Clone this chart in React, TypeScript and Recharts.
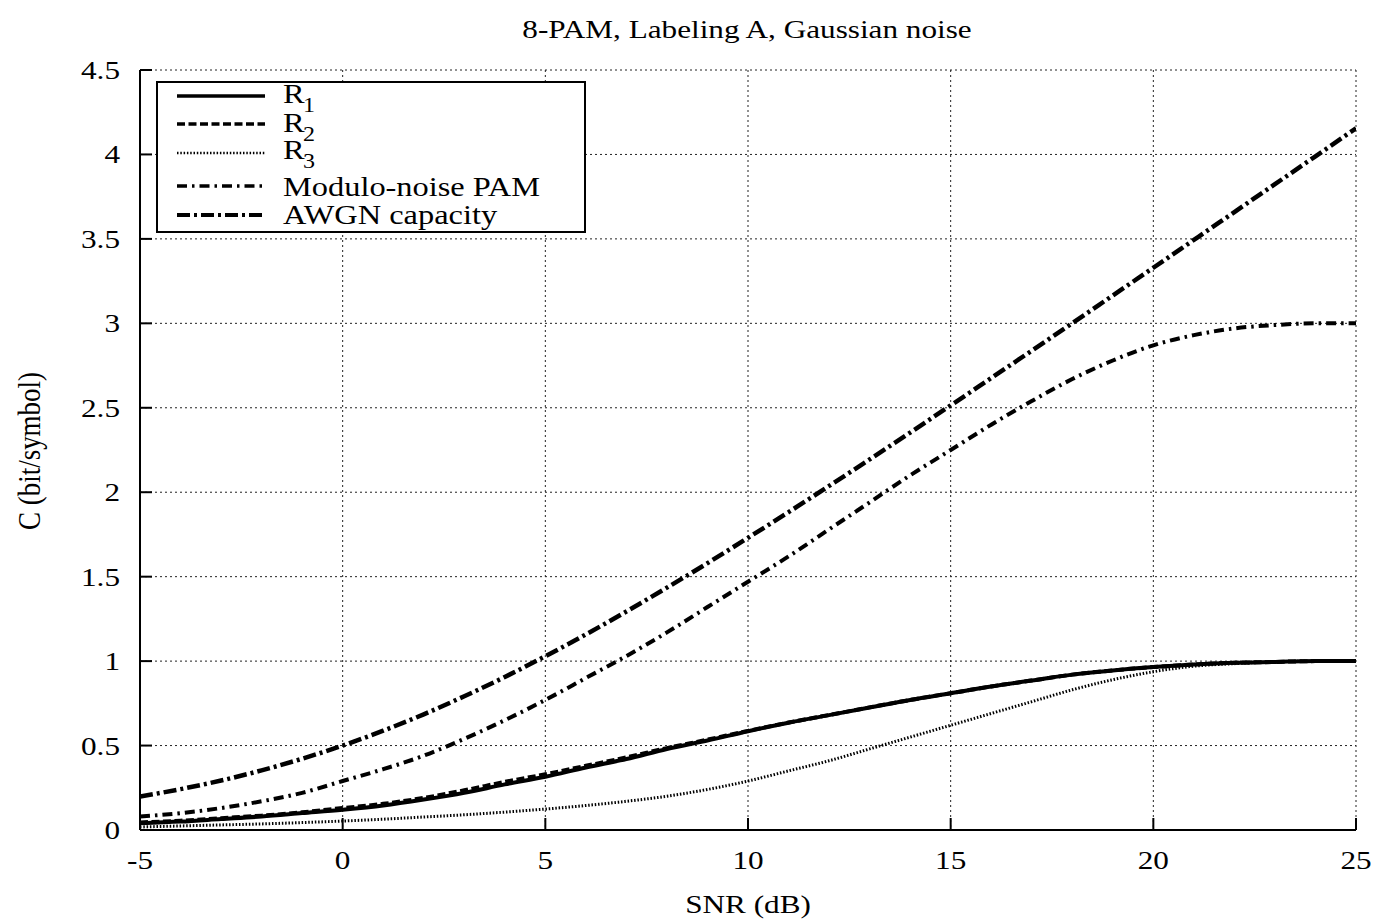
import { CartesianGrid, Line, LineChart, XAxis, YAxis } from "recharts";

// SNR in dB
const snr = [-5, -4, -3, -2, -1, 0, 1, 2, 3, 4, 5, 6, 7, 8, 9, 10, 11, 12, 13, 14, 15, 16, 17, 18, 19, 20, 21, 22, 23, 24, 25];

const r1 = [0.04, 0.05, 0.065, 0.08, 0.1, 0.12, 0.145, 0.18, 0.22, 0.27, 0.315, 0.37, 0.42, 0.48, 0.53, 0.585, 0.635, 0.68, 0.725, 0.77, 0.81, 0.85, 0.885, 0.92, 0.945, 0.965, 0.98, 0.99, 0.995, 1.0, 1.0];
const r2 = [0.045, 0.055, 0.07, 0.085, 0.105, 0.13, 0.155, 0.19, 0.235, 0.285, 0.33, 0.38, 0.43, 0.485, 0.535, 0.587, 0.636, 0.681, 0.726, 0.77, 0.81, 0.85, 0.885, 0.92, 0.945, 0.965, 0.98, 0.99, 0.995, 1.0, 1.0];
const r3 = [0.018, 0.024, 0.03, 0.036, 0.044, 0.053, 0.064, 0.077, 0.09, 0.106, 0.124, 0.145, 0.17, 0.2, 0.24, 0.29, 0.35, 0.41, 0.48, 0.55, 0.62, 0.69, 0.76, 0.83, 0.89, 0.937, 0.97, 0.985, 0.995, 1.0, 1.0];
const moduloPam = [0.08, 0.1, 0.13, 0.17, 0.22, 0.29, 0.36, 0.44, 0.54, 0.65, 0.77, 0.9, 1.03, 1.17, 1.32, 1.47, 1.62, 1.78, 1.94, 2.1, 2.25, 2.4, 2.54, 2.67, 2.78, 2.87, 2.93, 2.97, 2.99, 3.0, 3.0];
const awgn = [0.198, 0.242, 0.293, 0.353, 0.422, 0.5, 0.588, 0.685, 0.792, 0.906, 1.029, 1.158, 1.294, 1.435, 1.58, 1.73, 1.882, 2.037, 2.194, 2.353, 2.514, 2.676, 2.838, 3.001, 3.165, 3.329, 3.494, 3.659, 3.824, 3.989, 4.155];

const xTicks = [-5, 0, 5, 10, 15, 20, 25];
const yTicks = [0, 0.5, 1, 1.5, 2, 2.5, 3, 3.5, 4, 4.5];

const data = snr.map((s, i) => ({
  snr: s,
  r1: r1[i],
  r2: r2[i],
  r3: r3[i],
  mod: moduloPam[i],
  awgn: awgn[i],
}));

const FONT = "'Liberation Serif', 'DejaVu Serif', serif";
const TICK = 12;
const SX = 1.2; // the original text is stretched sideways

const series = [
  { key: "r1", label: "R", sub: "1", dash: undefined, width: 4, rowY: 96, baseY: 103 },
  { key: "r2", label: "R", sub: "2", dash: "8 3.5", width: 4, rowY: 124, baseY: 132 },
  { key: "r3", label: "R", sub: "3", dash: "1.5 1.8", width: 3, rowY: 153, baseY: 159 },
  { key: "mod", label: "Modulo-noise PAM", sub: "", dash: "10 5 2.5 5", width: 4, rowY: 186, baseY: 196 },
  { key: "awgn", label: "AWGN capacity", sub: "", dash: "13 4 3 4", width: 4.5, rowY: 215, baseY: 224 },
];

function SText({ x, y, size, anchor = "start", children }: any) {
  return (
    <text
      transform={`translate(${x} ${y}) scale(${SX} 1)`}
      textAnchor={anchor}
      fontFamily={FONT}
      fontSize={size}
      fill="#000"
    >
      {children}
    </text>
  );
}

function BottomTick({ x, y, payload }: any) {
  return (
    <g>
      <line x1={x} y1={y} x2={x} y2={y - TICK} stroke="#000" strokeWidth={2} />
      <SText x={x} y={y + 39} size={26} anchor="middle">
        {payload.value}
      </SText>
    </g>
  );
}

function TopTick({ x, y }: any) {
  return <line x1={x} y1={y} x2={x} y2={y + TICK} stroke="#000" strokeWidth={2} />;
}

function LeftTick({ x, y, payload }: any) {
  return (
    <g>
      <line x1={x} y1={y} x2={x + TICK} y2={y} stroke="#000" strokeWidth={2} />
      <SText x={x - 20} y={y + 9} size={26} anchor="end">
        {payload.value}
      </SText>
    </g>
  );
}

function RightTick({ x, y }: any) {
  return <line x1={x} y1={y} x2={x - TICK} y2={y} stroke="#000" strokeWidth={2} />;
}

function Overlay() {
  return (
    <svg width={1375} height={923} style={{ position: "absolute", left: 0, top: 0, pointerEvents: "none" }}>
      <SText x={747} y={38} size={26} anchor="middle">
        8-PAM, Labeling A, Gaussian noise
      </SText>
      <SText x={748} y={913} size={26} anchor="middle">
        SNR (dB)
      </SText>
      <text
        transform={`translate(40 451) scale(${SX} 1) rotate(-90)`}
        textAnchor="middle"
        fontFamily={FONT}
        fontSize={27}
        fill="#000"
      >
        C (bit/symbol)
      </text>
      <rect x={157} y={82} width={428} height={150} fill="#fff" stroke="#000" strokeWidth={2} />
      {series.map((s) => (
        <g key={s.key}>
          <line
            x1={177}
            x2={265}
            y1={s.rowY}
            y2={s.rowY}
            stroke="#000"
            strokeWidth={s.width - 0.5}
            strokeDasharray={s.dash}
          />
          <SText x={283} y={s.baseY} size={27}>
            {s.label}
          </SText>
          {s.sub && (
            <SText x={303} y={s.baseY + 9} size={20}>
              {s.sub}
            </SText>
          )}
        </g>
      ))}
    </svg>
  );
}

export default function App() {
  return (
    <div style={{ position: "absolute", left: 0, top: 0, width: 1375, height: 923, background: "#fff" }}>
      <LineChart
        width={1375}
        height={923}
        data={data}
        margin={{ top: 70, right: 19, bottom: 43, left: 80 }}
      >
        <CartesianGrid stroke="#222" strokeWidth={1} strokeDasharray="2 3" />
        <XAxis
          dataKey="snr"
          type="number"
          domain={[-5, 25]}
          ticks={xTicks}
          height={50}
          tickSize={0}
          tickMargin={0}
          tickLine={false}
          axisLine={{ stroke: "#000", strokeWidth: 2 }}
          tick={<BottomTick />}
          interval={0}
          allowDataOverflow
        />
        <XAxis
          xAxisId="top"
          orientation="top"
          dataKey="snr"
          type="number"
          domain={[-5, 25]}
          ticks={xTicks}
          height={0}
          tickSize={0}
          tickMargin={0}
          tickLine={false}
          axisLine={{ stroke: "#000", strokeWidth: 2 }}
          tick={<TopTick />}
          interval={0}
        />
        <YAxis
          type="number"
          domain={[0, 4.5]}
          ticks={yTicks}
          width={60}
          tickSize={0}
          tickMargin={0}
          tickLine={false}
          axisLine={{ stroke: "#000", strokeWidth: 2 }}
          tick={<LeftTick />}
          interval={0}
          allowDataOverflow
        />
        <YAxis
          yAxisId="right"
          orientation="right"
          type="number"
          domain={[0, 4.5]}
          ticks={yTicks}
          width={0}
          tickSize={0}
          tickMargin={0}
          tickLine={false}
          axisLine={{ stroke: "#000", strokeWidth: 2 }}
          tick={<RightTick />}
          interval={0}
        />
        {series.map((s) => (
          <Line
            key={s.key}
            type="monotone"
            dataKey={s.key}
            stroke="#000"
            strokeWidth={s.width}
            strokeDasharray={s.dash}
            dot={false}
            activeDot={false}
            isAnimationActive={false}
          />
        ))}
      </LineChart>
      <Overlay />
    </div>
  );
}
